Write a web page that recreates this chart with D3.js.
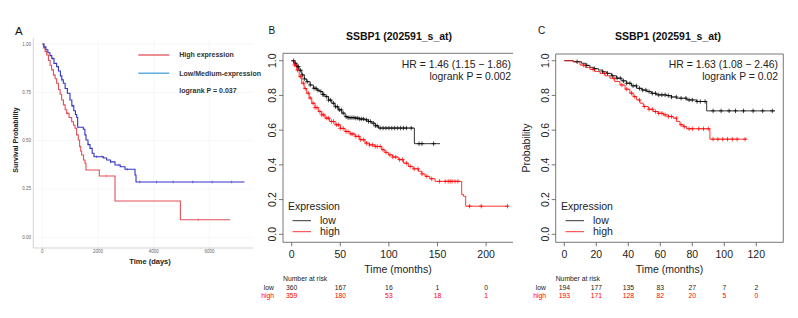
<!DOCTYPE html>
<html>
<head>
<meta charset="utf-8">
<script src="https://cdn.jsdelivr.net/npm/d3@7"></script>
<style>
  body { margin: 0; background: #fff; }
  svg { font-family: "Liberation Sans", Arial, Helvetica, sans-serif; }
</style>
</head>
<body>
<svg id="fig" width="798" height="318"></svg>
<script>
// DATA

// Panel A: [time in days, survival]
const A_HIGH = [[0,1],[50,0.98],[100,0.962],[156,0.943],[220,0.915],[280,0.89],[335,0.866],[400,0.84],[460,0.82],
  [515,0.797],[580,0.765],[640,0.74],[695,0.71],[760,0.685],[820,0.66],[874,0.641],[960,0.62],[1054,0.598],
  [1120,0.58],[1174,0.564],[1230,0.53],[1293,0.503],[1340,0.47],[1380,0.445],[1413,0.426],[1480,0.4],
  [1533,0.383],[1569,0.348],[2048,0.317],[2611,0.188],[4958,0.091],[6743,0.091]];
const A_LOW = [[0,1],[60,0.985],[130,0.97],[200,0.955],[275,0.94],[340,0.925],[420,0.9],[515,0.883],[580,0.86],
  [650,0.835],[700,0.815],[754,0.797],[820,0.77],[900,0.745],[994,0.71],[1060,0.68],[1130,0.655],[1190,0.635],
  [1234,0.62],[1270,0.569],[1473,0.559],[1530,0.53],[1569,0.503],[1640,0.48],[1713,0.46],[1790,0.435],
  [1856,0.417],[2200,0.41],[2311,0.4],[2450,0.39],[2611,0.374],[2800,0.365],[2970,0.352],[3329,0.322],
  [3365,0.286],[7257,0.286]];
const A_HIGH_CENSOR = [420, 900, 1350, 2300, 5600];
const A_LOW_CENSOR = [380, 700, 1100, 1650, 1950, 2150, 2450, 2750, 3050, 3500, 4100, 4700, 5400, 6100, 6800];
const A_X_TICKS = [0, 2000, 4000, 6000];
const A_Y_TICKS = [0, 0.25, 0.5, 0.75, 1];
const A_LEGEND = ['High expression', 'Low/Medium-expression'];

// Panel B: [time in months, survival]
const B_LOW = [[0,1],[2.5,0.985],[5.1,0.966],[7.5,0.945],[10.3,0.918],[13,0.895],[15.4,0.879],[19,0.86],
  [22.3,0.841],[26,0.83],[29.1,0.822],[32,0.805],[34.3,0.793],[38,0.773],[41.2,0.755],[44.5,0.735],[48,0.717],
  [51.5,0.698],[54.9,0.678],[58,0.672],[65.2,0.669],[70,0.664],[75.4,0.659],[79,0.65],[82.3,0.64],[86,0.625],
  [89.2,0.612],[126.2,0.522],[152.6,0.522]];
const B_HIGH = [[0,1],[2.5,0.975],[5.1,0.946],[7.7,0.908],[10.3,0.87],[12.8,0.84],[15.4,0.813],[18,0.785],
  [20.6,0.755],[24,0.73],[27.4,0.707],[31,0.688],[34.3,0.669],[39,0.65],[44.6,0.631],[50,0.61],[54.9,0.592],
  [60,0.578],[65.2,0.564],[70,0.545],[75.4,0.525],[80,0.515],[85.7,0.506],[92.6,0.487],[96,0.472],[99.5,0.458],
  [104,0.445],[109.7,0.43],[115,0.41],[120,0.391],[125,0.377],[130.3,0.363],[134,0.348],[137.2,0.334],
  [142,0.32],[147.5,0.305],[174.9,0.229],[176.6,0.219],[179,0.162],[222.9,0.162]];
const B_LOW_CENSOR = [2,4,6,7,9,11,13,16,19,23,25,27,30,32,33,36,38,40,43,45,47,49,51,53,56,58,60,62,64,66,
  68,70,72,74,77,79,81,84,86,88,91,94,97,100,103,106,109,112,115,118,123,131,134,146];
const B_HIGH_CENSOR = [3,6,9,12,14,17,19,22,24,26,29,31,33,36,38,41,43,46,48,50,53,56,58,61,63,66,69,71,74,
  77,80,83,86,88,91,94,97,101,104,107,111,114,118,122,126,130,134,139,144,152,158,161,163,165,168,171,183,195,222];
const B_X_TICKS = [0, 50, 100, 150, 200];
const B_RISK_LOW = [360, 167, 16, 1, 0];
const B_RISK_HIGH = [359, 180, 53, 18, 1];

// Panel C: [time in months, survival]
const C_LOW = [[0,1],[5.6,0.994],[10.8,0.985],[13.5,0.973],[16,0.962],[18.5,0.954],[21.3,0.946],[24,0.936],
  [26.5,0.927],[29.5,0.913],[32.7,0.899],[36,0.884],[39,0.87],[42,0.855],[45.2,0.841],[48.5,0.831],[51.5,0.822],
  [54.5,0.812],[57.7,0.803],[64,0.799],[67,0.791],[70.2,0.784],[76.5,0.774],[82.7,0.765],[89,0.711],[131.7,0.711]];
const C_HIGH = [[0,1],[5.6,0.994],[9.8,0.975],[13,0.962],[16,0.95],[19,0.938],[22.3,0.927],[25.5,0.913],
  [28.5,0.899],[31.5,0.88],[34.8,0.86],[38,0.836],[41,0.813],[43,0.793],[45.2,0.774],[47.3,0.755],[49.4,0.736],
  [52.5,0.72],[55.6,0.707],[58.7,0.697],[61.9,0.688],[65,0.678],[68.1,0.669],[70.2,0.65],[72.3,0.631],
  [74.4,0.62],[76.5,0.608],[91,0.548],[114,0.548]];
const C_LOW_CENSOR = [8,14,19,24,27,30,33,35,37,39,41,43,45,47,49,51,53,55,57,59,61,63,65,67,70,73,76,78,80,
  83,85,88,93,98,103,107,112,118,124,130];
const C_HIGH_CENSOR = [12,18,25,31,36,39,42,44,47,50,53,55,57,59,61,63,65,67,70,73,75,78,80,84,87,90,
  93,96,99,102,105,108,113];
const C_X_TICKS = [0, 20, 40, 60, 80, 100, 120];
const C_RISK_LOW = [194, 177, 135, 83, 27, 7, 2];
const C_RISK_HIGH = [193, 171, 128, 82, 20, 5, 0];

const KM_Y_TICKS = [0, 0.2, 0.4, 0.6, 0.8, 1];
const TITLE = 'SSBP1 (202591_s_at)';

// FUNCTIONS

const SVG = d3.select('#fig');

function survivalAt(points, t) {
  const idx = d3.bisectRight(points.map(p => p[0]), t) - 1;
  return points[Math.max(idx, 0)][1];
}

function drawStep(g, points, x, y, color, width) {
  const line = d3.line()
    .x(d => x(d[0]))
    .y(d => y(d[1]))
    .curve(d3.curveStepAfter);
  g.append('path')
    .attr('d', line(points))
    .attr('fill', 'none')
    .attr('stroke', color)
    .attr('stroke-width', width);
}

function drawPanelA() {
  const x = d3.scaleLinear().domain([0, 2000]).range([42.3, 98]);
  const y = d3.scaleLinear().domain([0, 1]).range([237.3, 44]);
  const g = SVG.append('g');

  // faint grid
  g.selectAll('.gy').data(A_Y_TICKS).join('line')
    .attr('x1', 34).attr('x2', 253)
    .attr('y1', d => y(d)).attr('y2', d => y(d))
    .attr('stroke', '#f1f1f1').attr('stroke-width', 0.6);
  g.selectAll('.gx').data(A_X_TICKS).join('line')
    .attr('x1', d => x(d)).attr('x2', d => x(d))
    .attr('y1', 40).attr('y2', 247)
    .attr('stroke', '#f1f1f1').attr('stroke-width', 0.6);

  // axis lines
  g.append('line').attr('x1', 33.3).attr('x2', 33.3).attr('y1', 38).attr('y2', 248)
    .attr('stroke', '#c8c8c8').attr('stroke-width', 0.8);
  g.append('line').attr('x1', 33.3).attr('x2', 253).attr('y1', 248).attr('y2', 248)
    .attr('stroke', '#c8c8c8').attr('stroke-width', 0.8);

  // ticks and labels
  g.selectAll('.ty').data(A_Y_TICKS).join('text')
    .attr('x', 31).attr('y', d => y(d) + 1.5)
    .attr('text-anchor', 'end')
    .attr('font-size', 4.5).attr('fill', '#666')
    .text(d => d3.format('.2f')(d));
  g.selectAll('.tx').data(A_X_TICKS).join('text')
    .attr('x', d => x(d)).attr('y', 253)
    .attr('text-anchor', 'middle')
    .attr('font-size', 4.5).attr('fill', '#666')
    .text(d => d);
  g.selectAll('.tk').data(A_X_TICKS).join('line')
    .attr('x1', d => x(d)).attr('x2', d => x(d))
    .attr('y1', 248).attr('y2', 250)
    .attr('stroke', '#bbb').attr('stroke-width', 0.6);

  drawStep(g, A_HIGH, x, y, '#e0505a', 1.1);
  drawStep(g, A_LOW, x, y, '#3434c8', 1.1);

  // censor ticks
  [[A_HIGH, A_HIGH_CENSOR, '#e0505a'], [A_LOW, A_LOW_CENSOR, '#3434c8']].forEach(([pts, cens, col]) => {
    g.selectAll(null).data(cens).join('line')
      .attr('x1', d => x(d)).attr('x2', d => x(d))
      .attr('y1', d => y(survivalAt(pts, d)) - 1.3)
      .attr('y2', d => y(survivalAt(pts, d)) + 1.3)
      .attr('stroke', col).attr('stroke-width', 0.6);
  });

  // legend
  const legendColors = ['#e0404a', '#3a9ad8'];
  A_LEGEND.forEach((label, i) => {
    const ly = 55 + i * 18.2;
    g.append('line').attr('x1', 138.3).attr('x2', 169.3).attr('y1', ly).attr('y2', ly)
      .attr('stroke', legendColors[i]).attr('stroke-width', 1.2);
    g.append('text').attr('x', 179.3).attr('y', ly + 2.4)
      .attr('font-size', 7).attr('font-weight', 'bold').attr('fill', '#333')
      .text(label);
  });
  g.append('text').attr('x', 179.3).attr('y', 93.1)
    .attr('font-size', 7).attr('font-weight', 'bold').attr('fill', '#333')
    .text('logrank P = 0.037');

  // axis titles
  g.append('text').attr('x', 150).attr('y', 264)
    .attr('text-anchor', 'middle')
    .attr('font-size', 7.5).attr('font-weight', 'bold').attr('fill', '#222')
    .text('Time (days)');
  g.append('text')
    .attr('transform', 'translate(18,140) rotate(-90)')
    .attr('text-anchor', 'middle')
    .attr('font-size', 7).attr('font-weight', 'bold').attr('fill', '#222')
    .text('Survival Probability');

  g.append('text').attr('x', 15).attr('y', 35)
    .attr('font-size', 11.5).attr('fill', '#111').text('A');
}

function drawKM(cfg) {
  const x = d3.scaleLinear().domain([0, cfg.xStep]).range([cfg.x0, cfg.x0 + cfg.xStepPx]);
  const y = d3.scaleLinear().domain([0, 1]).range([234.3, 60.7]);
  const g = SVG.append('g');
  const box = cfg.box;

  // frame
  g.append('path')
    .attr('d', cfg.rightBorder
      ? `M${box.l},${box.t}H${box.r}V${box.b}H${box.l}Z`
      : `M${box.r},${box.b}H${box.l}V${box.t}H${box.r}`)
    .attr('fill', 'none').attr('stroke', '#555').attr('stroke-width', 0.8);

  // x axis ticks
  g.selectAll('.xt').data(cfg.xTicks).join('line')
    .attr('x1', d => x(d)).attr('x2', d => x(d))
    .attr('y1', box.b).attr('y2', box.b + 4)
    .attr('stroke', '#555').attr('stroke-width', 0.8);
  g.selectAll('.xl').data(cfg.xTicks).join('text')
    .attr('x', d => x(d)).attr('y', 257.5)
    .attr('text-anchor', 'middle').attr('font-size', 10.5).attr('fill', '#222')
    .text(d => d);

  // y axis ticks
  g.selectAll('.yt').data(KM_Y_TICKS).join('line')
    .attr('x1', box.l - 4).attr('x2', box.l)
    .attr('y1', d => y(d)).attr('y2', d => y(d))
    .attr('stroke', '#555').attr('stroke-width', 0.8);
  g.selectAll('.yl').data(KM_Y_TICKS).join('text')
    .attr('transform', d => `translate(${box.l - 7},${y(d)}) rotate(-90)`)
    .attr('text-anchor', 'middle').attr('font-size', 10.5).attr('fill', '#222')
    .text(d => d3.format('.1f')(d));

  // curves
  drawStep(g, cfg.low, x, y, '#000', 0.8);
  drawStep(g, cfg.high, x, y, '#ff0000', 0.8);

  // censor marks
  [[cfg.low, cfg.lowCensor, '#000'], [cfg.high, cfg.highCensor, '#ff0000']].forEach(([pts, cens, col]) => {
    g.selectAll(null).data(cens).join('path')
      .attr('d', d => {
        const cx = x(d), cy = y(survivalAt(pts, d));
        return `M${cx - 2.2},${cy}H${cx + 2.2}M${cx},${cy - 2.2}V${cy + 2.2}`;
      })
      .attr('stroke', col).attr('stroke-width', 0.7).attr('fill', 'none');
  });

  // title and stats
  g.append('text').attr('x', cfg.titleX).attr('y', 40)
    .attr('text-anchor', 'middle').attr('font-size', 10.5).attr('font-weight', 'bold').attr('fill', '#111')
    .text(TITLE);
  g.append('text').attr('x', cfg.statX).attr('y', 68)
    .attr('text-anchor', 'end').attr('font-size', 10.4).attr('fill', '#222')
    .text(cfg.hr);
  g.append('text').attr('x', cfg.statX).attr('y', 80)
    .attr('text-anchor', 'end').attr('font-size', 10.4).attr('fill', '#222')
    .text(cfg.p);

  // legend
  g.append('text').attr('x', cfg.legX).attr('y', 209.5)
    .attr('font-size', 10.5).attr('fill', '#222').text('Expression');
  [['low', '#000', 220.7], ['high', '#ff0000', 231.7]].forEach(([label, col, ly]) => {
    g.append('line').attr('x1', cfg.legX + 4.5).attr('x2', cfg.legX + 23)
      .attr('y1', ly).attr('y2', ly).attr('stroke', col).attr('stroke-width', 0.8);
    g.append('text').attr('x', cfg.legX + 32).attr('y', ly + 3.6)
      .attr('font-size', 10.5).attr('fill', '#222').text(label);
  });

  // axis titles
  g.append('text').attr('x', (box.l + box.r) / 2).attr('y', 273)
    .attr('text-anchor', 'middle').attr('font-size', 10.5).attr('fill', '#222')
    .text('Time (months)');
  if (cfg.yLabel) {
    g.append('text')
      .attr('transform', `translate(${cfg.yLabelX},148) rotate(-90)`)
      .attr('text-anchor', 'middle').attr('font-size', 10.5).attr('fill', '#222')
      .text(cfg.yLabel);
  }

  // number at risk
  g.append('text').attr('x', box.l).attr('y', 281)
    .attr('font-size', 6.8).attr('fill', '#222').text('Number at risk');
  [['low', cfg.riskLow, '#222', 289.5], ['high', cfg.riskHigh, '#ff0000', 297.5]].forEach(([label, vals, col, ry]) => {
    g.append('text').attr('x', cfg.riskLabelX).attr('y', ry)
      .attr('text-anchor', 'end').attr('font-size', 6.8).attr('fill', col).text(label);
    g.selectAll(null).data(vals).join('text')
      .attr('x', (d, i) => x(cfg.xTicks[i])).attr('y', ry)
      .attr('text-anchor', 'middle').attr('font-size', 6.8).attr('fill', col)
      .text(d => d);
  });

  g.append('text').attr('x', cfg.letterX).attr('y', 34)
    .attr('font-size', 10).attr('fill', '#111').text(cfg.letter);
}

// DRAW

drawPanelA();

drawKM({
  letter: 'B', letterX: 268.5,
  x0: 291.7, xStep: 50, xStepPx: 48.6,
  box: { l: 283, r: 513, t: 53.3, b: 242.3 }, rightBorder: false,
  low: B_LOW, high: B_HIGH, lowCensor: B_LOW_CENSOR, highCensor: B_HIGH_CENSOR,
  xTicks: B_X_TICKS, riskLow: B_RISK_LOW, riskHigh: B_RISK_HIGH, riskLabelX: 274,
  titleX: 399, statX: 511, legX: 288,
  hr: 'HR = 1.46 (1.15 \u2212 1.86)', p: 'logrank P = 0.002',
  yLabel: null
});

drawKM({
  letter: 'C', letterX: 538,
  x0: 564.3, xStep: 20, xStepPx: 32,
  box: { l: 555.7, r: 783.3, t: 54, b: 242.3 }, rightBorder: true,
  low: C_LOW, high: C_HIGH, lowCensor: C_LOW_CENSOR, highCensor: C_HIGH_CENSOR,
  xTicks: C_X_TICKS, riskLow: C_RISK_LOW, riskHigh: C_RISK_HIGH, riskLabelX: 546,
  titleX: 668, statX: 778, legX: 561,
  hr: 'HR = 1.63 (1.08 \u2212 2.46)', p: 'logrank P = 0.02',
  yLabel: 'Probability', yLabelX: 530
});
</script>
</body>
</html>
